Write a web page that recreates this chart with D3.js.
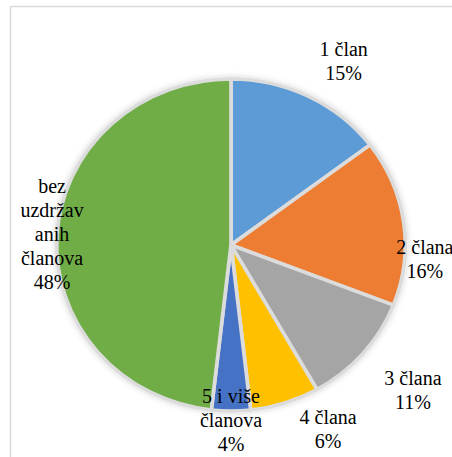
<!DOCTYPE html>
<html>
<head>
<meta charset="utf-8">
<script src="https://cdn.jsdelivr.net/npm/d3@7"></script>
<style>
  html, body { margin: 0; padding: 0; background: #fff; overflow: hidden; }
</style>
</head>
<body>
<div id="vis"></div>
<script>
// slice data, clockwise from 12 o'clock
var categories = ["1 član", "2 člana", "3 člana", "4 člana", "5 i više članova", "bez uzdržavanih članova"];
var values = [14.7, 16.2, 10.9, 6.4, 3.6, 48.2];
// label text lines as they wrap in the chart
var label_lines = [
  ["1 član"],
  ["2 člana"],
  ["3 člana"],
  ["4 člana"],
  ["5 i više", "članova"],
  ["bez", "uzdržav", "anih", "članova"]
];
var colors = ["#5B9BD5", "#ED7D31", "#A5A5A5", "#FFC000", "#4472C4", "#70AD47"];

var width = 452, height = 457;
var cx = 231, cy = 245, radius = 166, stretch = 1.05;

// label placement: distance from centre and angle tweak (degrees)
var label_r = [210, 195, 237, 214, 182, 179];
var label_da = [6, 14, -1, -9, 0, -2];
var line_h = 24;
var font = "Liberation Serif, DejaVu Serif, serif";

var svg = d3.select('#vis')
    .append('svg')
    .attr('width', width)
    .attr('height', height);

var defs = svg.append('defs');
var shadow = defs.append('filter')
    .attr('id', 'glow')
    .attr('x', '-20%').attr('y', '-20%')
    .attr('width', '140%').attr('height', '140%');
shadow.append('feDropShadow')
    .attr('dx', 0).attr('dy', 0)
    .attr('stdDeviation', 3)
    .attr('flood-color', '#000')
    .attr('flood-opacity', 0.18);

// chart frame
svg.append('rect')
    .attr('x', 10.5)
    .attr('y', 6.5)
    .attr('width', 470)
    .attr('height', 470)
    .attr('fill', '#fff')
    .attr('stroke', '#d9d9d9')
    .attr('stroke-width', 1.5);

var pie = d3.pie()
    .sort(null)
    .value(function(d) { return d; });

var arcs = pie(values);

var arc = d3.arc()
    .innerRadius(0)
    .outerRadius(radius);

var g = svg.append('g')
    .attr('transform', 'translate(' + cx + ',' + cy + ')');

g.append('g')
    .attr('transform', 'scale(' + stretch + ',1)')
    .attr('filter', 'url(#glow)')
    .selectAll('path')
    .data(arcs)
    .enter()
    .append('path')
    .attr('d', arc)
    .attr('fill', function(d, i) { return colors[i]; })
    .attr('stroke', '#dcdcdc')
    .attr('stroke-width', 3.5)
    .attr('stroke-linejoin', 'round');

var pct = d3.format('.0f');

g.selectAll('.label')
    .data(arcs)
    .enter()
    .append('text')
    .attr('class', 'label')
    .attr('text-anchor', 'middle')
    .style('font-family', font)
    .style('font-size', '20px')
    .attr('fill', '#000')
    .each(function(d, i) {
        var a = (d.startAngle + d.endAngle) / 2 + label_da[i] * Math.PI / 180;
        var x = Math.sin(a) * label_r[i];
        var y = -Math.cos(a) * label_r[i];
        var lines = label_lines[i].concat([pct(d.data) + '%']);
        var y0 = y - (lines.length - 1) * line_h / 2;
        var t = d3.select(this);
        lines.forEach(function(s, k) {
            t.append('tspan')
                .attr('x', x)
                .attr('y', y0 + k * line_h)
                .text(s);
        });
    });
</script>
</body>
</html>
